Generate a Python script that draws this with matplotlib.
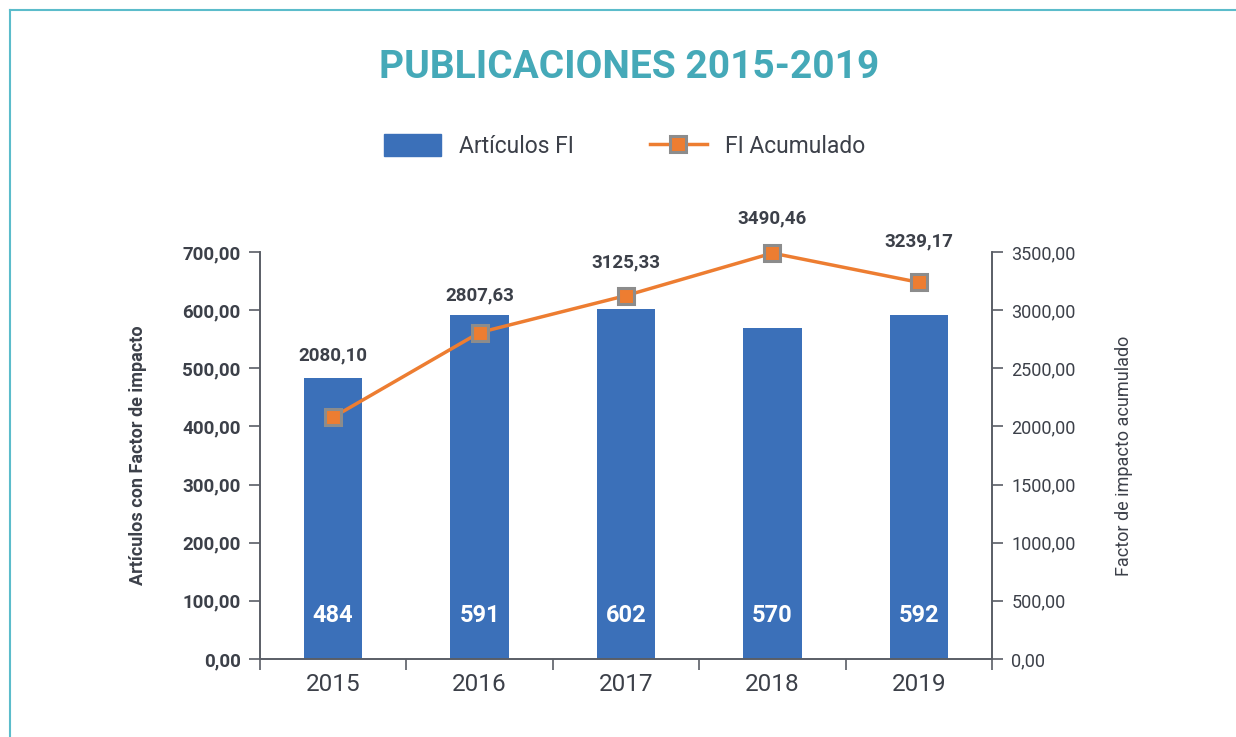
import matplotlib.pyplot as plt
from matplotlib.lines import Line2D
from matplotlib.patches import Patch

plt.rcParams['font.family'] = ['Roboto', 'DejaVu Sans']

years = ["2015", "2016", "2017", "2018", "2019"]
articulos = [484, 591, 602, 570, 592]
fi_acumulado = [2080.10, 2807.63, 3125.33, 3490.46, 3239.17]
# vertical offset (pixels) of each FI label above its marker
label_offsets = [62, 37, 33, 35, 41]

blue = "#3b70b9"
orange = "#ed7d31"
teal = "#45a9b8"
dark = "#3c4049"
spine_c = "#5a5e66"

def fmt(v):
    return f"{v:.2f}".replace(".", ",")

fig = plt.figure(figsize=(12.36, 7.37), dpi=100)

# teal frame lines (top and left)
fig.add_artist(Line2D([10/1236, 1], [1-10/737, 1-10/737], color="#5bbccb", lw=1.5))
fig.add_artist(Line2D([10/1236, 10/1236], [0, 1-10/737], color="#5bbccb", lw=1.5))

ax = fig.add_axes([260/1236, 1-659/737, 732/1236, 407/737])
ax2 = ax.twinx()

x = list(range(len(years)))
ax.bar(x, articulos, width=0.4, color=blue, zorder=2)
ax.set_ylim(0, 700)
ax.set_xlim(-0.5, 4.5)
ax.set_yticks(range(0, 701, 100))
ax.set_yticklabels([fmt(v) for v in range(0, 701, 100)], fontsize=13.5, fontweight="bold", color=dark)
ax.set_xticks([i - 0.5 for i in range(6)])
ax.set_xticklabels([])
ax.set_xticks(x, minor=True)
ax.set_xticklabels(years, minor=True, fontsize=17.5, color=dark)
ax.tick_params(axis="x", which="minor", length=0, pad=10)
ax.tick_params(axis="x", which="major", length=8, color=spine_c, width=1.2)
ax.tick_params(axis="y", length=8, color=spine_c, width=1.2, pad=6)
ax.set_ylabel("Artículos con Factor de impacto", fontsize=13, fontweight="bold", color=dark, labelpad=25)

for i, v in enumerate(articulos):
    ax.text(i, 75, str(v), ha="center", va="center", color="white", fontsize=17, fontweight="bold", zorder=3)

ax2.plot(x, fi_acumulado, color=orange, lw=2.5, marker="s", markersize=12,
         markerfacecolor=orange, markeredgecolor="#8c8c8c", markeredgewidth=2.2, zorder=4, clip_on=False)
ax2.set_ylim(0, 3500)
ax2.set_yticks(range(0, 3501, 500))
ax2.set_yticklabels([fmt(v) for v in range(0, 3501, 500)], fontsize=13, color=dark)
ax2.tick_params(axis="y", length=8, color=spine_c, width=1.2, pad=6)
ax2.set_ylabel("Factor de impacto acumulado", fontsize=13, color=dark, labelpad=28)

for i, v in enumerate(fi_acumulado):
    ax2.annotate(fmt(v), (i, v), xytext=(0, label_offsets[i]), textcoords="offset pixels",
                 ha="center", va="center", fontsize=13.5, fontweight="bold", color=dark)

for a in (ax, ax2):
    a.spines["top"].set_visible(False)
    for s in ("left", "right", "bottom"):
        a.spines[s].set_color(spine_c)
        a.spines[s].set_linewidth(1.2)

fig.text(629.5/1236, 1-67/737, "PUBLICACIONES 2015-2019", ha="center", va="center",
         fontsize=28, fontweight="bold", color=teal)

handles = [Patch(color=blue),
           Line2D([], [], color=orange, lw=2.5, marker="s", markersize=12,
                  markerfacecolor=orange, markeredgecolor="#8c8c8c", markeredgewidth=2.2)]
fig.legend(handles, ["Artículos FI", "FI Acumulado"], loc="center", bbox_to_anchor=(624.5/1236, 1-146/737),
           ncol=2, frameon=False, fontsize=16.5, handlelength=2.5, handleheight=1.1,
           columnspacing=3.3, handletextpad=0.8, labelcolor=dark)

fig.savefig("out.png", dpi=100)
